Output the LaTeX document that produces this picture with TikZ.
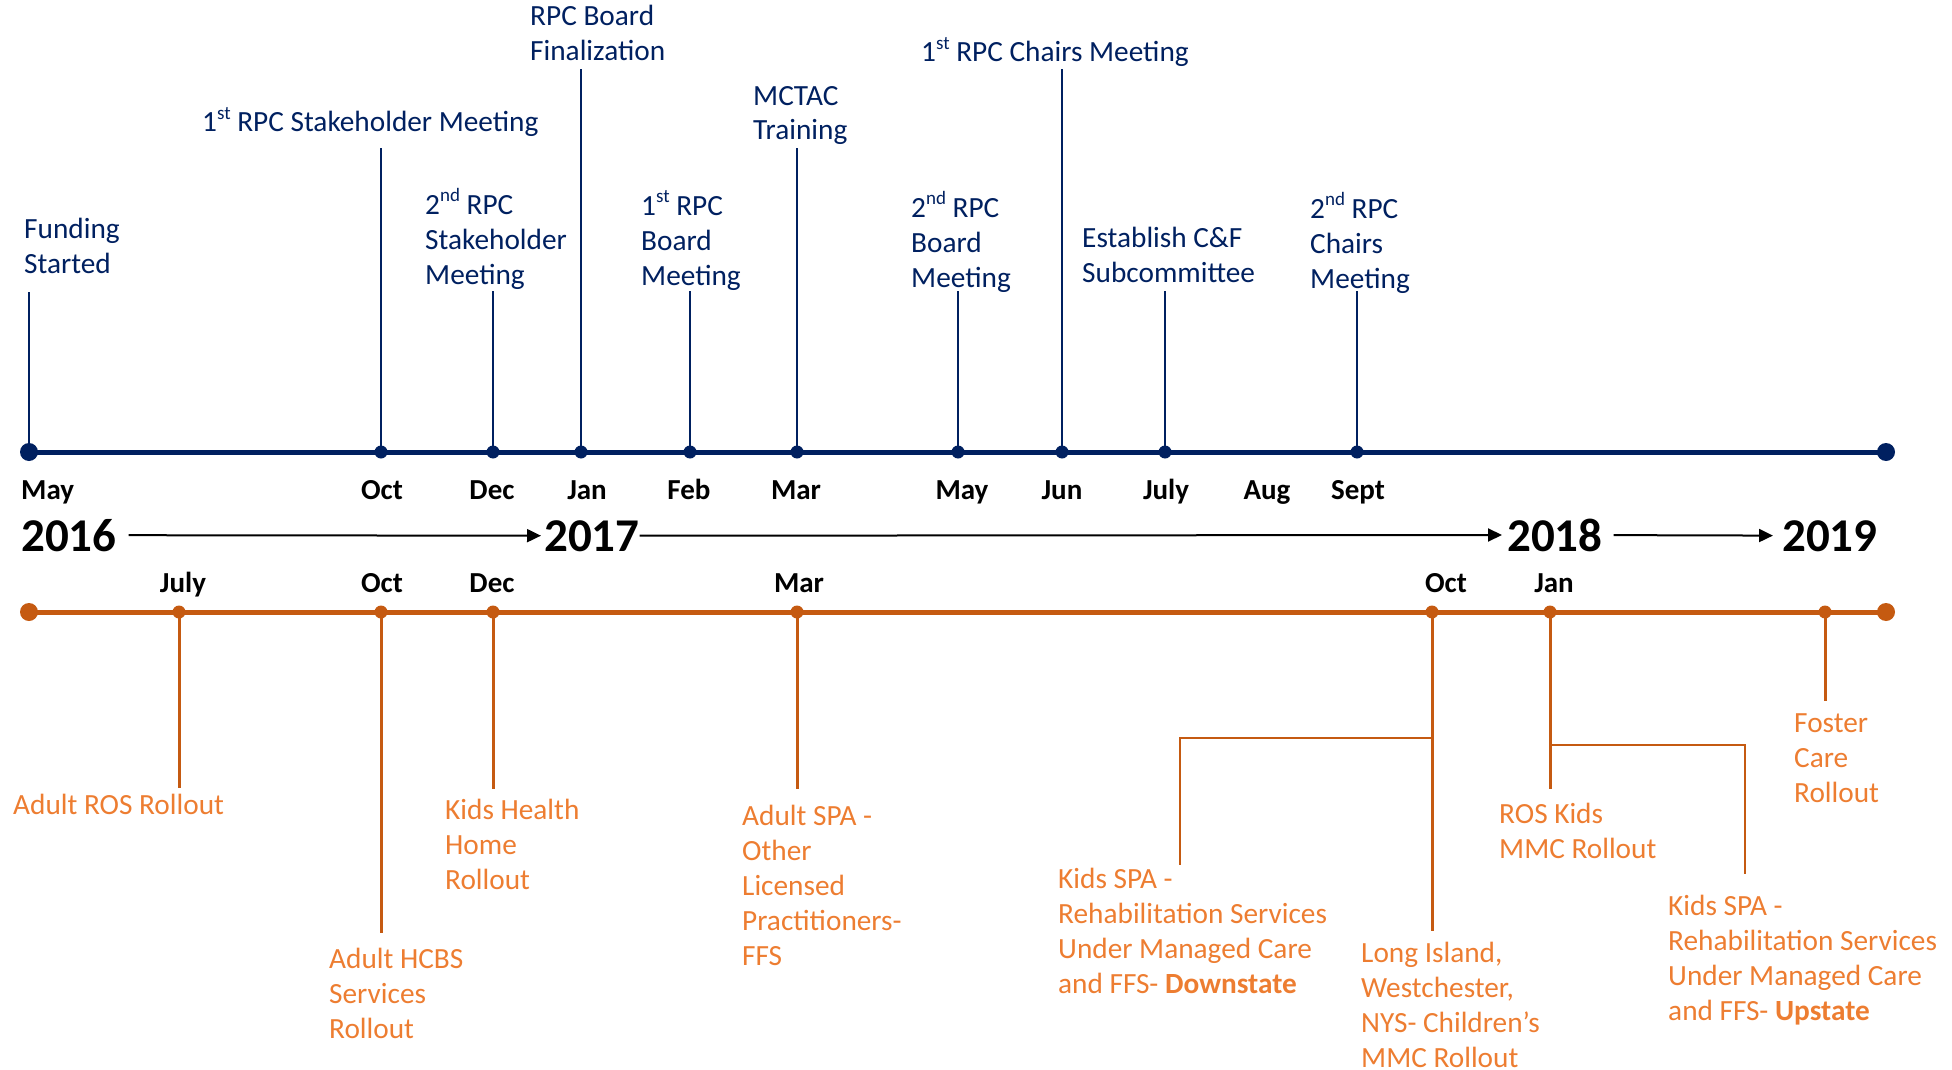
\documentclass[tikz,border=0pt]{standalone}
\usepackage{fontspec}
\setmainfont{Carlito}
\usetikzlibrary{positioning,arrows.meta}
\definecolor{navy}{HTML}{002060}
\definecolor{rust}{HTML}{C55A11}
\definecolor{peach}{HTML}{ED7D31}
\newcommand{\ordsup}[1]{\raisebox{.42em}{\fontsize{19}{19}\selectfont #1}}
\tikzset{>={Triangle[length=14pt,width=13pt]}}
\tikzset{
  evt/.style={anchor=base west, inner sep=0, align=left, text=navy, font=\fontsize{29.3}{35}\selectfont},
  roll/.style={evt, text=peach},
  mon/.style={anchor=base, inner sep=0, font=\fontsize{29}{30}\selectfont\bfseries},
  yr/.style={anchor=base west, inner sep=0, font=\fontsize{47}{50}\selectfont\bfseries},
  bstem/.style={navy, line width=2.5pt},
  ostem/.style={rust, line width=3pt},
  elbow/.style={rust, line width=1.5pt},
}

\begin{document}
\begin{tikzpicture}[x=1pt,y=-1pt]
\useasboundingbox (0,0) rectangle (1952,1070);
% upper time line
\draw[navy, line width=5pt] (29,452) coordinate (bstart) -- (1886,452) coordinate (bend);
\fill[navy] (bstart) circle(9pt) (bend) circle(9pt);
\draw[bstem] (bstart) -- (29,292) coordinate (fundtop);
\fill[navy] (381,452) circle(6.5pt) coordinate (oct16);
\fill[navy] (493,452) circle(6.5pt) coordinate (dec16);
\fill[navy] (581,452) circle(6.5pt) coordinate (jan17);
\fill[navy] (690,452) circle(6.5pt) coordinate (feb17);
\fill[navy] (797,452) circle(6.5pt) coordinate (mar17);
\fill[navy] (958,452) circle(6.5pt) coordinate (may17);
\fill[navy] (1062,452) circle(6.5pt) coordinate (jun17);
\fill[navy] (1165,452) circle(6.5pt) coordinate (jul17);
\fill[navy] (1357,452) circle(6.5pt) coordinate (sep17);
\draw[bstem] (oct16) -- (381,148) coordinate (oct16top);
\draw[bstem] (dec16) -- (493,291) coordinate (dec16top);
\draw[bstem] (jan17) -- (581,69) coordinate (jan17top);
\draw[bstem] (feb17) -- (690,291) coordinate (feb17top);
\draw[bstem] (mar17) -- (797,148) coordinate (mar17top);
\draw[bstem] (may17) -- (958,291) coordinate (may17top);
\draw[bstem] (jun17) -- (1062,69) coordinate (jun17top);
\draw[bstem] (jul17) -- (1165,291) coordinate (jul17top);
\draw[bstem] (sep17) -- (1357,291) coordinate (sep17top);

\node[evt] (fund) at (24,273) {Funding\\Started};
\node[evt] (stake1) at (202,132) {1\ordsup{st} RPC Stakeholder Meeting};
\node[evt] (stake2) at (425,284) {2\ordsup{nd} RPC\\Stakeholder\\Meeting};
\node[evt] (final) at (530,61) {RPC Board\\Finalization};
\node[evt] (board1) at (641,285) {1\ordsup{st} RPC\\Board\\Meeting};
\node[evt] (mctac) at (753,140) {MCTAC\\Training};
\node[evt] (chairs1) at (921,62) {1\ordsup{st} RPC Chairs Meeting};
\node[evt] (board2) at (911,287) {2\ordsup{nd} RPC\\Board\\Meeting};
\node[evt] (cf) at (1082,282) {Establish C\&F\\Subcommittee};
\node[evt] (chairs2) at (1310,288) {2\ordsup{nd} RPC\\Chairs\\Meeting};

% months, upper
\node[mon, anchor=base west] (mmay16) at (21,499) {May};
\node[mon] (moct16) at (382,499) {Oct};
\node[mon] (mdec16) at (492,499) {Dec};
\node[mon] (mjan17) at (587,499) {Jan};
\node[mon] (mfeb17) at (689,499) {Feb};
\node[mon] (mmar17) at (796,499) {Mar};
\node[mon] (mmay17) at (962,499) {May};
\node[mon] (mjun17) at (1062,499) {Jun};
\node[mon] (mjul17) at (1166,499) {July};
\node[mon] (maug17) at (1267,499) {Aug};
\node[mon] (msep17) at (1358,499) {Sept};

% years
\node[yr] (y16) at (21,551) {2016};
\node[yr] (y17) at (544,551) {2017};
\node[yr] (y18) at (1507,551) {2018};
\node[yr] (y19) at (1782,551) {2019};
\draw[->, line width=2pt, shorten <=12pt, shorten >=3pt] (y16) -- (y17);
\draw[->, line width=2pt, shorten >=5pt] (y17) -- (y18);
\draw[->, line width=2pt, shorten <=11pt, shorten >=9pt] (y18) -- (y19);

% lower time line
\node[mon] (ljul16) at (183,592) {July};
\node[mon] (loct16) at (382,592) {Oct};
\node[mon] (ldec16) at (492,592) {Dec};
\node[mon] (lmar17) at (799,592) {Mar};
\node[mon] (loct17) at (1446,592) {Oct};
\node[mon] (ljan18) at (1554,592) {Jan};

\draw[rust, line width=5pt] (29,612) coordinate (ostart) -- (1886,612) coordinate (oend);
\fill[rust] (ostart) circle(9pt) (oend) circle(9pt);
\fill[rust] (179,612) circle(6.5pt) coordinate (rjul16);
\fill[rust] (381,612) circle(6.5pt) coordinate (roct16);
\fill[rust] (493,612) circle(6.5pt) coordinate (rdec16);
\fill[rust] (797,612) circle(6.5pt) coordinate (rmar17);
\fill[rust] (1432,612) circle(6.5pt) coordinate (roct17);
\fill[rust] (1550,612) circle(6.5pt) coordinate (rjan18);
\fill[rust] (1825,612) circle(6.5pt) coordinate (rfoster);
\draw[ostem] (rjul16) -- (179,788) coordinate (rjul16bot);
\draw[ostem] (roct16) -- (381,933) coordinate (roct16bot);
\draw[ostem] (rdec16) -- (493,789) coordinate (rdec16bot);
\draw[ostem] (rmar17) -- (797,789) coordinate (rmar17bot);
\draw[ostem] (roct17) -- (1432,931) coordinate (roct17bot);
\draw[ostem] (rjan18) -- (1550,789) coordinate (rjan18bot);
\draw[ostem] (rfoster) -- (1825,701) coordinate (rfosterbot);
\draw[elbow] (1432,738) coordinate (kdtap) -- (1180,738) -- (1180,865) coordinate (kdbot);
\draw[elbow] (1550,745) coordinate (kutap) -- (1745,745) -- (1745,874) coordinate (kubot);

\node[roll] (aros) at (13,814) {Adult ROS Rollout};
\node[roll] (hcbs) at (329,1038) {Adult HCBS\\Services\\Rollout};
\node[roll] (khh) at (445,889) {Kids Health\\Home\\Rollout};
\node[roll] (aspa) at (742,965) {Adult SPA -\\Other\\Licensed\\Practitioners-\\FFS};
\node[roll] (kdown) at (1058,993) {Kids SPA -\\Rehabilitation Services\\Under Managed Care\\and FFS- \textbf{Downstate}};
\node[roll] (limmc) at (1361,1067) {Long Island,\\Westchester,\\NYS- Children’s\\MMC Rollout};
\node[roll] (roskids) at (1499,858) {ROS Kids\\MMC Rollout};
\node[roll] (kup) at (1668,1020) {Kids SPA -\\Rehabilitation Services\\Under Managed Care\\and FFS- \textbf{Upstate}};
\node[roll] (foster) at (1794,802) {Foster\\Care\\Rollout};
\end{tikzpicture}
\end{document}
